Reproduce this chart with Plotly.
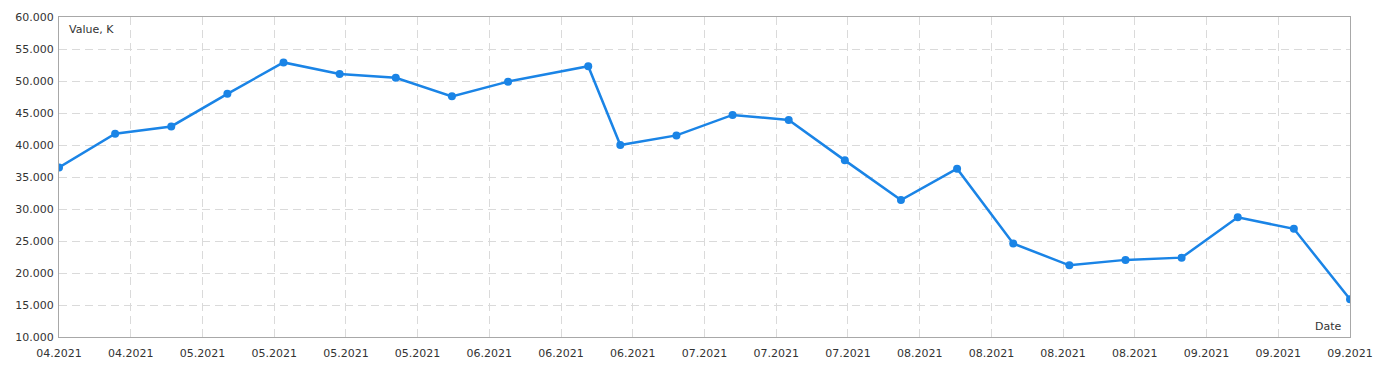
import pandas as pd
import plotly.graph_objects as go

dates = ["2021-04-16", "2021-04-23", "2021-04-30", "2021-05-07", "2021-05-14",
         "2021-05-21", "2021-05-28", "2021-06-04", "2021-06-11", "2021-06-21",
         "2021-06-25", "2021-07-02", "2021-07-09", "2021-07-16", "2021-07-23",
         "2021-07-30", "2021-08-06", "2021-08-13", "2021-08-20", "2021-08-27",
         "2021-09-03", "2021-09-10", "2021-09-17", "2021-09-24"]
values = [36.5, 41.75, 42.9, 48.0, 52.9, 51.1, 50.5, 47.6, 49.9, 52.3,
          40.0, 41.5, 44.7, 43.9, 37.6, 31.4, 36.3, 24.6, 21.2, 22.05,
          22.4, 28.7, 26.9, 15.9]
y_title = "Value, K"
x_title = "Date"

x_start, x_end = pd.Timestamp(dates[0]), pd.Timestamp(dates[-1])
tick_dates = pd.date_range(x_start, x_end, periods=19)

fig = go.Figure()
fig.add_trace(go.Scatter(
    x=pd.to_datetime(dates), y=values, mode="lines+markers",
    line=dict(color="#1a84e6", width=2.5),
    marker=dict(color="#1a84e6", size=8),
    hoverinfo="x+y", showlegend=False,
))

grid = dict(showgrid=True, gridcolor="#dadada", griddash="8px,5px", gridwidth=1,
            showline=True, linecolor="#a8a8a8", linewidth=1, mirror=True,
            zeroline=False, ticks="", automargin=False,
            tickfont=dict(family="DejaVu Sans", size=11, color="#333333"))

fig.update_xaxes(type="date", range=[x_start, x_end], tickvals=tick_dates,
                 tickformat="%m.%Y", ticklabelstandoff=6, **grid)
fig.update_yaxes(range=[10, 60], tickvals=[10, 15, 20, 25, 30, 35, 40, 45, 50, 55, 60],
                 tickformat=".3f", ticklabelstandoff=2, **grid)

fig.add_annotation(text=y_title, xref="paper", yref="paper", x=0, y=1,
                   xanchor="left", yanchor="top", xshift=8, yshift=-4, showarrow=False,
                   font=dict(family="DejaVu Sans", size=11, color="#333333"))
fig.add_annotation(text=x_title, xref="paper", yref="paper", x=1, y=0,
                   xanchor="right", yanchor="bottom", xshift=-6, yshift=2, showarrow=False,
                   font=dict(family="DejaVu Sans", size=11, color="#333333"))

fig.update_layout(
    width=1385, height=370,
    margin=dict(l=59, r=35, t=17, b=33),
    paper_bgcolor="white", plot_bgcolor="white",
)

fig.write_html("out.html")
